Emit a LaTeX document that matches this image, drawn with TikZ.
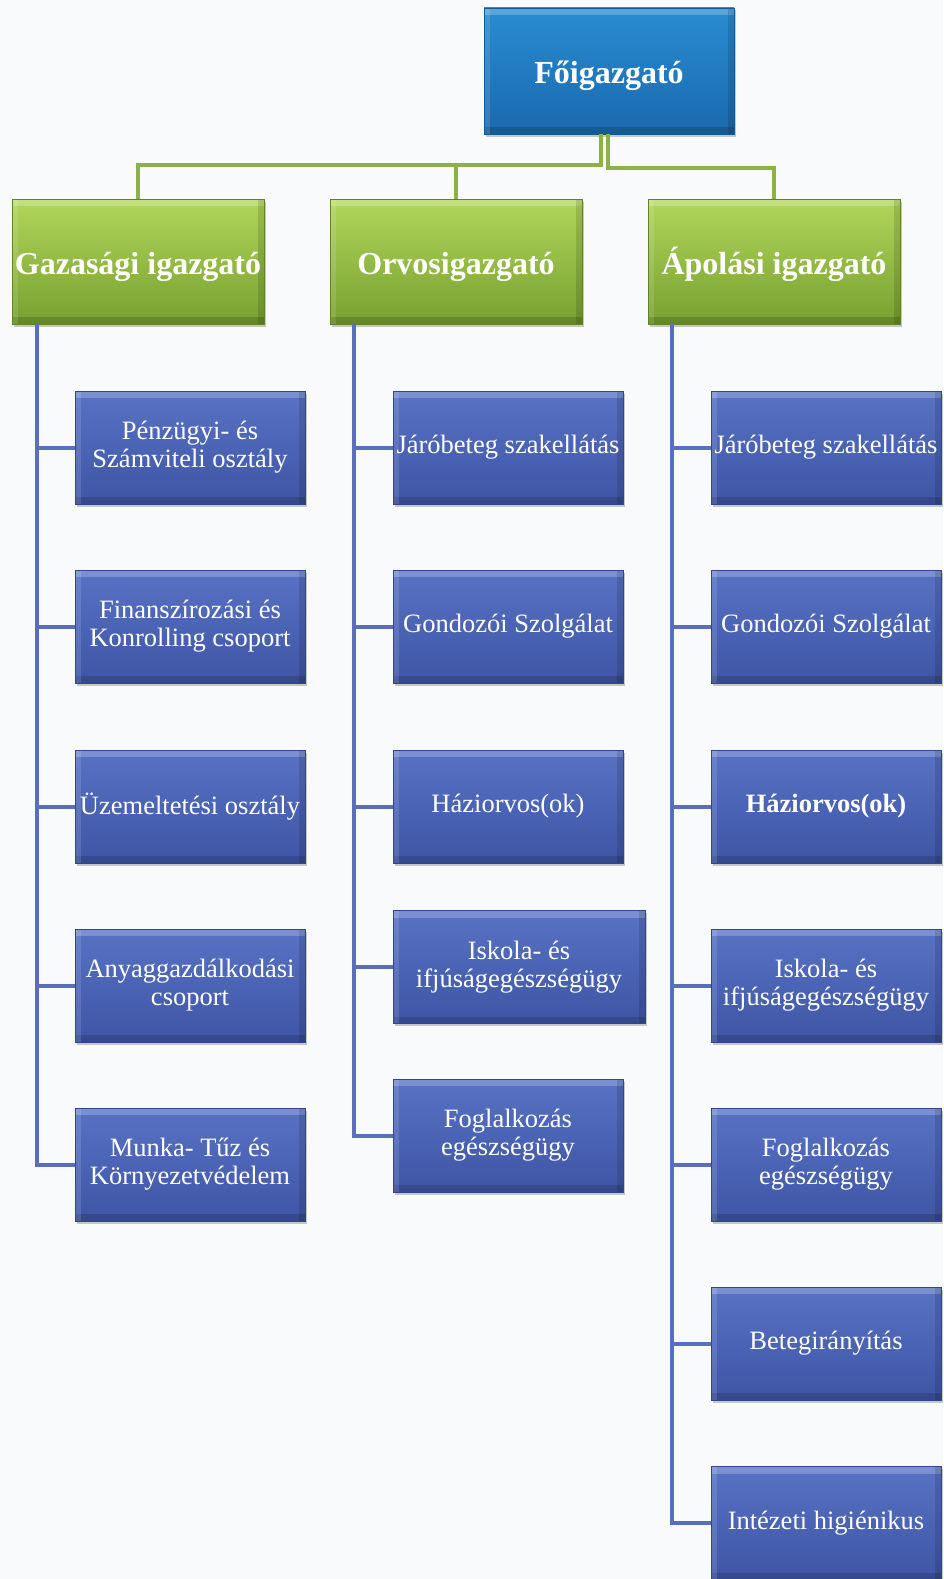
\documentclass[tikz,border=0pt]{standalone}
\usepackage{fontspec}
\setmainfont{Liberation Serif}
\usetikzlibrary{shadows}
\definecolor{bgc}{HTML}{F9FAFC}
\definecolor{topA}{HTML}{2A8CD2}
\definecolor{topB}{HTML}{1A69AE}
\definecolor{topD}{HTML}{155A94}
\definecolor{grA}{HTML}{B2D65A}
\definecolor{grB}{HTML}{76A030}
\definecolor{grD}{HTML}{5F8526}
\definecolor{blA}{HTML}{5872C4}
\definecolor{blB}{HTML}{3F55A6}
\definecolor{blD}{HTML}{33468C}
\definecolor{gline}{HTML}{8DB144}
\definecolor{bline}{HTML}{5A6EBE}
\tikzset{
  boxbase/.style={rectangle, inner sep=0pt, align=center, text=white, line width=0.8pt,
    drop shadow={shadow xshift=2pt, shadow yshift=-2.5pt, opacity=0.35, fill=black!60},
    path picture={
      \fill[white,opacity=0.22] (path picture bounding box.north west) rectangle ([yshift=-7pt]path picture bounding box.north east);
      \fill[black,opacity=0.15] (path picture bounding box.south west) rectangle ([yshift=7pt]path picture bounding box.south east);
      \fill[white,opacity=0.12] (path picture bounding box.north west) rectangle ([xshift=6pt]path picture bounding box.south west);
      \fill[black,opacity=0.12] (path picture bounding box.north east) rectangle ([xshift=-6pt]path picture bounding box.south east);
    }},
  topbox/.style={boxbase, minimum width=250pt, minimum height=126pt, top color=topA, bottom color=topB, draw=topD,
    font=\fontsize{32}{35}\selectfont\bfseries, text height=30pt, text depth=5pt},
  grbox/.style={boxbase, minimum width=252pt, minimum height=125pt, top color=grA, bottom color=grB, draw=grD,
    font=\fontsize{32}{35}\selectfont\bfseries, text height=31pt, text depth=5pt},
  blbox/.style={boxbase, minimum width=230pt, minimum height=113pt, top color=blA, bottom color=blB, draw=blD,
    font=\fontsize{26.5}{28}\selectfont},
  gconn/.style={draw=gline, line width=4.5pt},
  bconn/.style={draw=bline, line width=4pt},
}
\begin{document}
\begin{tikzpicture}[x=1pt,y=-1pt]
\fill[bgc] (0,0) rectangle (943,1579);
\useasboundingbox (0,0) rectangle (943,1579);

% top
\node[topbox] (top) at (609,71) {Főigazgató};
% directors
\node[grbox] (g1) at (138,261.5) {Gazasági igazgató};
\node[grbox] (g2) at (456,261.5) {Orvosigazgató};
\node[grbox] (g3) at (774,261.5) {Ápolási igazgató};

\coordinate (h1) at (0,165);
\coordinate (h2) at (0,168);
\draw[gconn] ([xshift=-8pt]top.south) |- (g1.north |- h1) -- (g1.north);
\draw[gconn] (g2.north) -- (g2.north |- h1);
\draw[gconn] ([xshift=-1pt]top.south) |- (g3.north |- h2) -- (g3.north);

% column 1
\node[blbox] (a1) at (190,447.5) {Pénzügyi- és\\Számviteli osztály};
\node[blbox] (a2) at (190,626.5) {Finanszírozási és\\Konrolling csoport};
\node[blbox] (a3) at (190,806.5) {Üzemeltetési osztály};
\node[blbox] (a4) at (190,985.5) {Anyaggazdálkodási\\csoport};
\node[blbox] (a5) at (190,1164.5) {Munka- Tűz és\\Környezetvédelem};

% column 2
\node[blbox] (b1) at (508,447.5) {Járóbeteg szakellátás};
\node[blbox] (b2) at (508,626.5) {Gondozói Szolgálat};
\node[blbox] (b3) at (508,806.5) {Háziorvos(ok)};
\node[blbox, minimum width=252pt] (b4) at (519,967) {Iskola- és\\ifjúságegészségügy};
\node[blbox] (b5) at (508,1135.5) {Foglalkozás\\egészségügy};

% column 3
\node[blbox] (c1) at (826,447.5) {Járóbeteg szakellátás};
\node[blbox] (c2) at (826,626.5) {Gondozói Szolgálat};
\node[blbox, font=\fontsize{26.5}{28}\selectfont\bfseries] (c3) at (826,806.5) {Háziorvos(ok)};
\node[blbox] (c4) at (826,985.5) {Iskola- és\\ifjúságegészségügy};
\node[blbox] (c5) at (826,1164.5) {Foglalkozás\\egészségügy};
\node[blbox] (c6) at (826,1343.5) {Betegirányítás};
\node[blbox] (c7) at (826,1523) {Intézeti higiénikus};

% trunks
\coordinate (t1) at (37,0);
\coordinate (t2) at (354,0);
\coordinate (t3) at (672,0);
\draw[bconn] (g1.south -| t1) |- (a5.west);
\foreach \n in {a1,a2,a3,a4} \draw[bconn] (\n.west) -- (\n.west -| t1);
\draw[bconn] (g2.south -| t2) |- (b5.west);
\foreach \n in {b1,b2,b3,b4} \draw[bconn] (\n.west) -- (\n.west -| t2);
\draw[bconn] (g3.south -| t3) |- (c7.west);
\foreach \n in {c1,c2,c3,c4,c5,c6} \draw[bconn] (\n.west) -- (\n.west -| t3);
\end{tikzpicture}
\end{document}
